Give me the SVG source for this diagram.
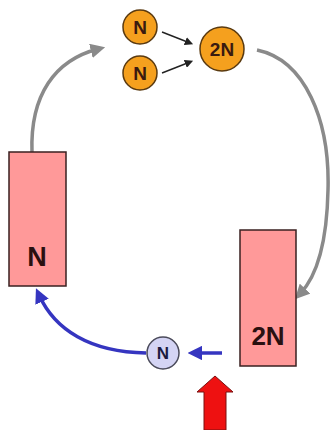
<svg xmlns="http://www.w3.org/2000/svg" width="331" height="430" viewBox="0 0 331 430">
  <defs>
    <style>
      .lbl { font-family: "Liberation Sans", Arial, sans-serif; font-weight: bold; text-anchor: middle; }
      .orange { fill: #f5a01e; stroke: #5a3a10; stroke-width: 1.5; }
      .box { fill: #ff9999; stroke: #3a2020; stroke-width: 1.5; }
      .gray { fill: none; stroke: #8a8a8a; stroke-width: 3.5; }
      .blue { fill: none; stroke: #3535c0; stroke-width: 3.5; }
      .thin { fill: none; stroke: #222; stroke-width: 1.4; }
    </style>
    <marker id="headGray" viewBox="0 0 10 10" refX="5" refY="5" markerWidth="4.2" markerHeight="4.2" orient="auto" markerUnits="strokeWidth">
      <path d="M0,0 L10,5 L0,10 z" fill="#8a8a8a"/>
    </marker>
    <marker id="headBlue" viewBox="0 0 10 10" refX="5" refY="5" markerWidth="4.2" markerHeight="4.2" orient="auto" markerUnits="strokeWidth">
      <path d="M0,0 L10,5 L0,10 z" fill="#3535c0"/>
    </marker>
    <marker id="headBlack" viewBox="0 0 10 10" refX="6" refY="5" markerWidth="6" markerHeight="6" orient="auto" markerUnits="strokeWidth">
      <path d="M0,0 L10,5 L0,10 z" fill="#222"/>
    </marker>
  </defs>

  <rect width="331" height="430" fill="#ffffff"/>

  <!-- connectors -->
  <g id="connectors">
    <path class="gray" d="M32,152 C30,95 55,60 98,49" marker-end="url(#headGray)"/>
    <path class="gray" d="M257,50 C305,60 330,120 328,190 C327,240 318,275 300,294" marker-end="url(#headGray)"/>
    <path class="thin" d="M162,32 L190,43" marker-end="url(#headBlack)"/>
    <path class="thin" d="M162,73 L190,62" marker-end="url(#headBlack)"/>
    <path class="blue" d="M222,353 L195,353" marker-end="url(#headBlue)"/>
    <path class="blue" d="M146,353 C90,352 55,330 39,295" marker-end="url(#headBlue)"/>
    <!-- incoming block arrow -->
    <path d="M204,430 L204,392 L197,392 L215,376 L233,392 L226,392 L226,430 Z" fill="#ee1111" stroke="#7a1010" stroke-width="1"/>
  </g>

  <g id="n-top">
    <circle class="orange" cx="140" cy="27" r="17"/>
    <text class="lbl" x="140" y="34" font-size="19" fill="#3a1a10">N</text>
  </g>
  <g id="n-bottom">
    <circle class="orange" cx="140" cy="73" r="17"/>
    <text class="lbl" x="140" y="80" font-size="19" fill="#3a1a10">N</text>
  </g>
  <g id="n-pair">
    <circle class="orange" cx="222" cy="49" r="22"/>
    <text class="lbl" x="222" y="56" font-size="19" fill="#3a1a10">2N</text>
  </g>

  <g id="box-n">
    <rect class="box" x="9" y="152" width="57" height="134"/>
    <text class="lbl" x="37" y="266" font-size="27" fill="#2a1010">N</text>
  </g>
  <g id="box-2n">
    <rect class="box" x="240" y="230" width="56" height="136"/>
    <text class="lbl" x="268" y="345" font-size="26" fill="#2a1010">2N</text>
  </g>

  <g id="n-free">
    <circle cx="163" cy="353" r="16" fill="#d4d4f4" stroke="#4a4a5a" stroke-width="1.5"/>
    <text class="lbl" x="163" y="359" font-size="17" fill="#1a1a40">N</text>
  </g>
</svg>
